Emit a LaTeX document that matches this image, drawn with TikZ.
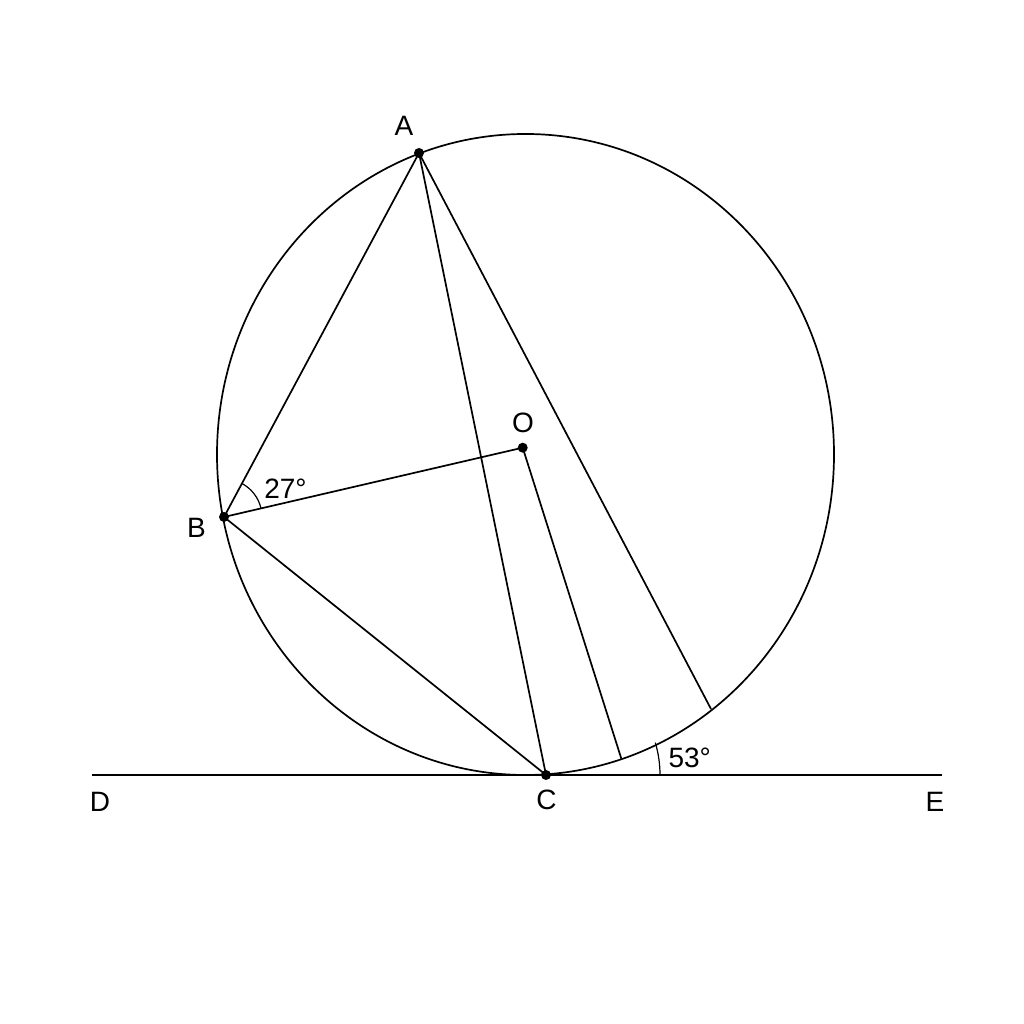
\documentclass[tikz,border=0pt]{standalone}
\usepackage{fontspec}
\setmainfont{Liberation Sans}
\begin{document}
\begin{tikzpicture}[x=1pt,y=1pt,line width=1.7pt,
  dot/.style={circle,fill=black,inner sep=0pt,minimum size=10pt},
  lbl/.style={inner sep=0pt,font=\fontsize{28}{34}\selectfont}]
\useasboundingbox[fill=white] (0,0) rectangle (1024,1024);
% points
\coordinate (Oc) at (525.5,569.5);
\node[dot] (A) at (419,871) {};
\node[dot] (B) at (224,507) {};
\node[dot] (C) at (546,249) {};
\node[dot] (O) at (522.7,576.3) {};
\coordinate (P) at (621.3,265.4);
\coordinate (Q) at (711,315);
\coordinate (D) at (92,249);
\coordinate (E) at (942,249);
% circle
\draw (Oc) ellipse [x radius=308.5, y radius=320.5];
% tangent line
\draw (D) -- (E);
% segments
\draw (A.center) -- (B.center);
\draw (A.center) -- (C.center);
\draw (B.center) -- (C.center);
\draw (B.center) -- (O.center);
\draw (O.center) -- (P);
\draw (A.center) -- (Q);
% angle arcs
\draw[line width=1.2pt] ([shift={(13:38)}]B.center) arc[start angle=13,end angle=62,radius=38];
\draw[line width=1.2pt] ([shift={(0:114)}]C.center) arc[start angle=0,end angle=16.5,radius=114];
% labels
\node[lbl] (lA) at (404,898.5) {A};
\node[lbl] (lB) at (196.5,496.5) {B};
\node[lbl] (lO) at (523,601) {O};
\node[lbl] (lC) at (546.5,224) {C};
\node[lbl] (lD) at (100,222) {D};
\node[lbl] (lE) at (935,222) {E};
\node[lbl] (a27) at (285.5,535.5) {27°};
\node[lbl] (a53) at (689.7,266) {53°};
\end{tikzpicture}
\end{document}
